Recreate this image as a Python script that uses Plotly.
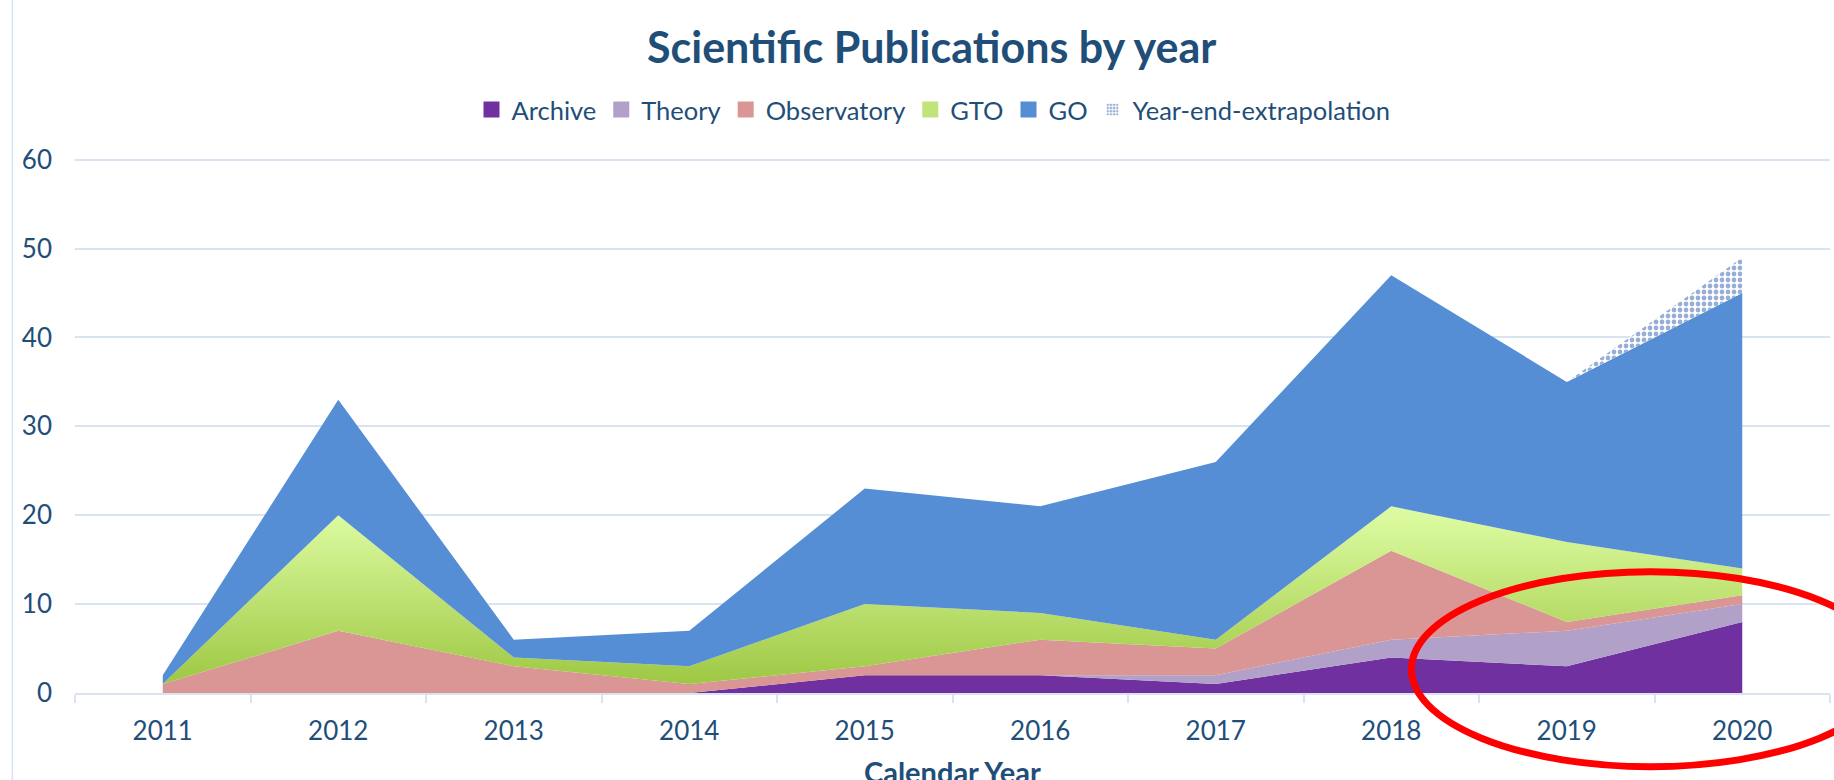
import plotly.graph_objects as go

years = ["2011", "2012", "2013", "2014", "2015", "2016", "2017", "2018", "2019", "2020"]
archive = [0, 0, 0, 0, 2, 2, 1, 4, 3, 8]
theory = [0, 0, 0, 0, 0, 0, 1, 2, 4, 2]
observatory = [1, 7, 3, 1, 1, 4, 3, 10, 1, 1]
gto = [0, 13, 1, 2, 7, 3, 1, 5, 9, 3]
go_vals = [1, 13, 2, 4, 13, 12, 20, 26, 18, 31]
extrapolation = [0, 0, 0, 0, 0, 0, 0, 0, 0, 4]

series_names = ["Archive", "Theory", "Observatory", "GTO", "GO", "Year-end-extrapolation"]
colors = {"Archive": "#7030A0", "Theory": "#B1A0C7", "Observatory": "#DA9694",
          "GTO": "#C4E57C", "GO": "#558ED5", "Year-end-extrapolation": "#2F5EAE"}
TXT = "#1F4E79"
GRID = "#D9E3F2"
FONT = "Lato"

fig = go.Figure()

data = {"Archive": archive, "Theory": theory, "Observatory": observatory,
        "GTO": gto, "GO": go_vals, "Year-end-extrapolation": extrapolation}

for name in series_names:
    kw = dict(x=years, y=data[name], name=name, mode="none", stackgroup="one",
              showlegend=False, hoverinfo="x+y+name")
    if name == "GTO":
        kw["fillcolor"] = colors[name]
        kw["fillgradient"] = dict(type="vertical", start=0, stop=20,
                                  colorscale=[[0, "#9BC53F"], [1, "#DCFBA0"]])
    elif name == "Year-end-extrapolation":
        kw["fillcolor"] = "white"
        kw["fillpattern"] = dict(shape=".", fgcolor=colors[name], bgcolor="white",
                                 size=6, solidity=0.5)
    else:
        kw["fillcolor"] = colors[name]
    fig.add_trace(go.Scatter(**kw))

# legend entries
for name in series_names[:5]:
    c = colors[name]
    if name == "GTO":
        c = "#C2E27A"
    fig.add_trace(go.Scatter(x=[None], y=[None], mode="markers", name=name,
                             marker=dict(symbol="square", size=16, color=c),
                             showlegend=True))
fig.add_trace(go.Bar(x=[None], y=[None], name="Year-end-extrapolation",
                     marker=dict(color="white", line=dict(width=0),
                                 pattern=dict(shape=".", fgcolor=colors["Year-end-extrapolation"],
                                              bgcolor="white", size=4, solidity=0.5)),
                     showlegend=True))

# highlight ellipse
fig.add_shape(type="circle", xref="paper", yref="paper",
              x0=0.7615, x1=1.034, y0=-0.1375, y1=0.2263,
              line=dict(color="#FF0000", width=7), layer="above")
# chart border (left)
fig.add_shape(type="line", xref="paper", yref="paper",
              x0=-0.0357, x1=-0.0357, y0=-0.17, y1=1.31,
              line=dict(color=GRID, width=1.5))

fig.add_annotation(text="Calendar Year", xref="paper", yref="paper", x=0.5, y=-0.1108,
                   xanchor="center", yanchor="top", showarrow=False,
                   font=dict(family=FONT, size=29, color=TXT, weight="bold"))

fig.update_layout(
    width=1834, height=780,
    margin=dict(l=75, r=4, t=157, b=87),
    paper_bgcolor="white", plot_bgcolor="white",
    title=dict(text="Scientific Publications by year", x=0.508, xref="container", xanchor="center",
               y=0.938, yref="container", yanchor="middle",
               font=dict(family=FONT, size=43, color=TXT, weight="bold")),
    legend=dict(orientation="h", xref="container", yref="container", x=0.509, y=0.859,
                xanchor="center", yanchor="middle", traceorder="normal",
                font=dict(family=FONT, size=25.5, color=TXT), itemclick=False),
    xaxis=dict(type="category", range=[-0.5, 9.5], tickson="boundaries", ticks="outside",
               ticklen=8, tickwidth=1.5, tickcolor=GRID, showline=True, linecolor=GRID,
               linewidth=1.5, showgrid=False, ticklabelstandoff=14,
               tickfont=dict(family=FONT, size=26, color=TXT)),
    yaxis=dict(range=[0, 60.3], tickvals=[0, 10, 20, 30, 40, 50, 60], showgrid=True,
               gridcolor=GRID, gridwidth=1.5,
               zeroline=False, showline=False, ticks="", ticklabelstandoff=22,
               tickfont=dict(family=FONT, size=26, color=TXT)),
    showlegend=True,
)

fig.write_html("out.html", config={"displayModeBar": False},
               post_script="document.body.style.margin='0';document.body.style.padding='0';")
